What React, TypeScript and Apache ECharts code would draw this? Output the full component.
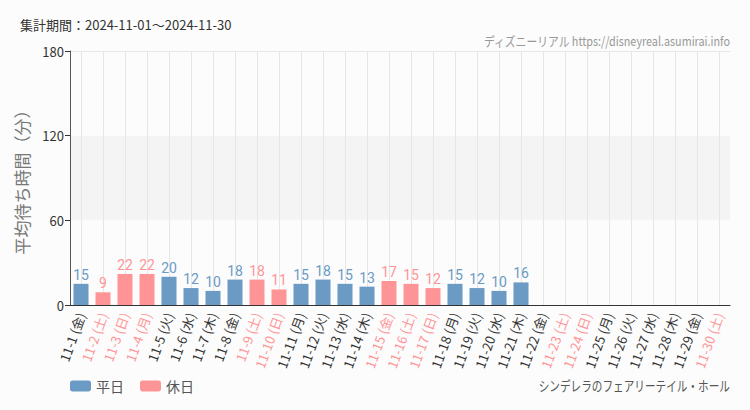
import React, { useEffect, useRef } from "react";
import * as echarts from "echarts";

const days = Array.from({ length: 30 }, (_, i) => i + 1);
const weekdaysJa = ["金", "土", "日", "月", "火", "水", "木", "金", "土", "日", "月", "火", "水", "木", "金", "土", "日", "月", "火", "水", "木", "金", "土", "日", "月", "火", "水", "木", "金", "土"];
const holidayFlags = [0, 1, 1, 1, 0, 0, 0, 0, 1, 1, 0, 0, 0, 0, 1, 1, 1, 0, 0, 0, 0, 0, 1, 1, 0, 0, 0, 0, 0, 1];
const waitValues: (number | null)[] = [15, 9, 22, 22, 20, 12, 10, 18, 18, 11, 15, 18, 15, 13, 17, 15, 12, 15, 12, 10, 16, null, null, null, null, null, null, null, null, null];
const yTicks = [0, 60, 120, 180];

const categories = days.map((d, i) => `11-${d} (${weekdaysJa[i]})`);
const BLUE = "#6b9ac4";
const PINK = "#ff9497";
const JP = "'Noto Sans CJK JP', sans-serif";

export default function App() {
  const ref = useRef<HTMLDivElement>(null);
  useEffect(() => {
    if (!ref.current) return;
    const chart = echarts.init(ref.current, null, { renderer: "svg" });
    const weekdayData = waitValues.map((v, i) => (holidayFlags[i] || v == null ? "-" : v));
    const holidayData = waitValues.map((v, i) => (!holidayFlags[i] || v == null ? "-" : v));
    const W = 750, gl = 70, gr = 20;
    const cw = (W - gl - gr) / categories.length;
    chart.setOption({
      animation: false,
      backgroundColor: "#fbfcfb",
      textStyle: { fontFamily: JP },
      graphic: [
        {
          type: "text",
          left: 20,
          top: 18,
          style: { text: "集計期間：2024-11-01～2024-11-30", fontSize: 13, fill: "#333", fontFamily: JP },
        },
        {
          type: "text",
          x: 730,
          y: 40,
          scaleX: 0.83,
          style: { text: "ディズニーリアル https://disneyreal.asumirai.info", fontSize: 13, fill: "#999", fontFamily: JP, align: "right", verticalAlign: "middle" },
        },
        {
          type: "text",
          x: 730,
          y: 385,
          scaleX: 0.76,
          style: { text: "シンデレラのフェアリーテイル・ホール", fontSize: 14, fill: "#555", fontFamily: JP, align: "right", verticalAlign: "middle" },
        },
      ],
      legend: {
        left: 65,
        top: 374,
        itemWidth: 21,
        itemHeight: 11,
        itemGap: 16,
        textStyle: { fontSize: 14, color: "#555" },
        data: ["平日", "休日"],
      },
      grid: [
        { left: gl, right: gr, top: 51, bottom: 105 },
        { left: gl + cw / 2, right: gr + cw / 2, top: 51, bottom: 105 },
      ],
      xAxis: [
        {
          type: "category",
          data: categories,
          gridIndex: 0,
          z: 5,
          axisLine: { lineStyle: { color: "#333", width: 1 } },
          axisTick: { alignWithLabel: true, length: 5, lineStyle: { color: "#333" } },
          splitLine: { show: false },
          axisLabel: {
            interval: 0,
            rotate: 70,
            fontSize: 13,
            margin: 8,
            fontFamily: JP,
            color: (_v: string, i: number) => (holidayFlags[i] ? PINK : "#333"),
          },
        },
        {
          type: "value",
          gridIndex: 1,
          min: 0,
          max: categories.length - 1,
          interval: 1,
          axisLine: { show: false },
          axisTick: { show: false },
          axisLabel: { show: false },
          splitLine: { show: true, lineStyle: { color: "#e6e6e6" } },
        },
      ],
      yAxis: [
        {
          type: "value",
          gridIndex: 0,
          min: 0,
          max: 180,
          interval: 60,
          name: "平均待ち時間（分）",
          nameLocation: "middle",
          nameGap: 40,
          nameTextStyle: { fontSize: 17, color: "#777" },
          axisLine: { show: true, lineStyle: { color: "#555" } },
          axisTick: { show: true, length: 5, lineStyle: { color: "#333" } },
          axisLabel: { fontSize: 13, color: "#333", margin: 6, formatter: (v: number) => (yTicks.includes(v) ? String(v) : "") },
          splitLine: { show: true, lineStyle: { color: ["transparent", "transparent", "transparent", "#e6e6e6"] } },
          splitArea: { show: true, areaStyle: { color: ["rgba(0,0,0,0)", "#f4f4f4", "rgba(0,0,0,0)"] } },
        },
        {
          type: "value",
          gridIndex: 1,
          min: 0,
          max: 180,
          show: false,
          splitLine: { show: false },
        },
      ],
      series: [
        {
          name: "平日",
          type: "bar",
          stack: "a",
          barWidth: 15,
          data: weekdayData,
          itemStyle: { color: BLUE },
          label: { show: true, position: "top", distance: 2, color: BLUE, fontSize: 14, fontFamily: "Roboto, sans-serif" },
        },
        {
          name: "休日",
          type: "bar",
          stack: "a",
          barWidth: 15,
          data: holidayData,
          itemStyle: { color: PINK },
          label: { show: true, position: "top", distance: 2, color: PINK, fontSize: 14, fontFamily: "Roboto, sans-serif" },
        },
      ],
    });
    return () => chart.dispose();
  }, []);
  return <div ref={ref} style={{ width: 750, height: 410, position: "absolute", left: 0, top: 0 }} />;
}
